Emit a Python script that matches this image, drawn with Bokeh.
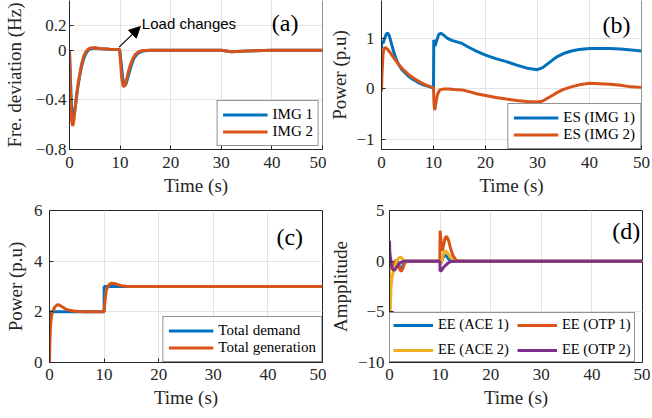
from bokeh.plotting import figure
from bokeh.models import FixedTicker, Range1d, Label, Arrow, NormalHead, Span
from bokeh.layouts import column, row
from bokeh.embed import file_html
from bokeh.resources import INLINE

# ---------------- data ----------------
x_ticks = [0, 10, 20, 30, 40, 50]

# (a) frequency deviation
t_img1 = [0, 0.2, 0.4, 0.6, 0.8, 1.0, 1.3, 1.6, 2.0, 2.4, 2.8, 3.2, 3.7, 4.2, 5.0, 6.0, 8.0, 9.9,
          10.2, 10.5, 10.8, 11.1, 11.4, 11.8, 12.3, 12.8, 13.5, 14.5, 16, 20, 25, 30, 32, 35, 40, 45, 50]
f_img1 = [0, -0.25, -0.45, -0.54, -0.55, -0.5, -0.41, -0.31, -0.21, -0.13, -0.07, -0.03, 0.0, 0.012, 0.018,
          0.012, 0.008, 0.006, -0.1, -0.22, -0.28, -0.28, -0.24, -0.18, -0.11, -0.06, -0.025, -0.006, 0.0,
          0.0, 0.0, 0.0, -0.012, -0.006, 0.0, 0.0, 0.0]
t_img2 = [0, 0.15, 0.3, 0.45, 0.65, 0.85, 1.1, 1.4, 1.7, 2.0, 2.4, 2.8, 3.2, 3.7, 4.2, 5.0, 6.0, 8.0, 9.9,
          10.1, 10.3, 10.6, 10.9, 11.2, 11.6, 12.0, 12.5, 13.0, 13.7, 14.5, 16, 20, 25, 30, 32, 35, 40, 45, 50]
f_img2 = [0, -0.28, -0.48, -0.58, -0.61, -0.57, -0.47, -0.36, -0.27, -0.2, -0.11, -0.05, -0.015, 0.008,
          0.018, 0.02, 0.013, 0.008, 0.006, -0.1, -0.22, -0.29, -0.29, -0.25, -0.18, -0.12, -0.07, -0.035,
          -0.012, -0.003, 0.0, 0.0, 0.0, 0.0, -0.012, -0.006, 0.0, 0.0, 0.0]

# (b) ES power
t_es1 = [0, 0.05, 0.3, 0.6, 0.9, 1.2, 1.5, 1.9, 2.3, 2.7, 3.2, 3.8, 4.5, 5.2, 6.0, 7.0, 8.0, 9.0, 9.95,
         10.0, 10.05, 10.3, 10.6, 11.0, 11.4, 12.0, 12.7, 13.5, 14.5, 15.5, 16.5, 18, 20, 22, 24, 26, 28,
         30, 31, 32, 33, 34, 35, 36.5, 38, 40, 42, 44, 46, 48, 50]
p_es1 = [0.8, 0.92, 0.9, 1.0, 1.08, 1.11, 1.05, 0.9, 0.75, 0.62, 0.5, 0.4, 0.32, 0.25, 0.19, 0.13, 0.08,
         0.05, 0.02, 0.0, 0.97, 0.85, 0.95, 1.08, 1.1, 1.06, 1.0, 0.96, 0.93, 0.9, 0.84, 0.76, 0.67, 0.6,
         0.54, 0.47, 0.41, 0.38, 0.42, 0.5, 0.58, 0.65, 0.7, 0.75, 0.78, 0.8, 0.8, 0.8, 0.79, 0.77, 0.75]
t_es2 = [0, 0.1, 0.3, 0.5, 0.8, 1.2, 1.8, 2.6, 3.5, 4.5, 5.5, 6.5, 7.5, 8.5, 9.5, 10.0, 10.1, 10.25, 10.5,
         10.8, 11.2, 12, 13, 14, 15.5, 17, 18.5, 20, 22, 24, 26, 28, 30, 31, 32, 33, 34, 35, 36.5, 38, 40,
         42, 44, 46, 48, 50]
p_es2 = [-0.05, 0.3, 0.7, 0.8, 0.82, 0.78, 0.7, 0.58, 0.46, 0.35, 0.26, 0.19, 0.13, 0.08, 0.04, 0.02, -0.3,
         -0.42, -0.25, -0.1, -0.02, 0.0, 0.0, -0.01, -0.02, -0.06, -0.1, -0.13, -0.17, -0.2, -0.23, -0.25,
         -0.26, -0.24, -0.18, -0.12, -0.06, -0.01, 0.04, 0.08, 0.11, 0.1, 0.09, 0.07, 0.04, 0.03]

# (c) total demand / generation
t_dem = [0, 0.01, 10, 10.01, 50]
p_dem = [0, 2, 2, 3, 3]
t_gen = [0, 0.1, 0.2, 0.35, 0.5, 0.7, 1.0, 1.4, 1.8, 2.3, 2.9, 3.6, 4.5, 5.5, 7, 9.9, 10.0, 10.2, 10.4,
         10.7, 11.0, 11.4, 11.9, 12.5, 13.2, 14, 15, 20, 30, 40, 50]
p_gen = [0, 1.0, 1.5, 1.8, 1.95, 2.07, 2.2, 2.28, 2.27, 2.2, 2.12, 2.06, 2.03, 2.01, 2.0, 2.0, 2.02, 2.5,
         2.85, 3.0, 3.09, 3.13, 3.12, 3.07, 3.03, 3.01, 3.0, 3.0, 3.0, 3.0, 3.0]

# (d) EE signals
t_ace1 = [0, 0.2, 0.5, 0.8, 1.2, 1.6, 2.0, 2.3, 2.6, 3.0, 3.5, 5, 10, 10.2, 10.5, 10.9, 11.3, 11.7, 12.2,
          13, 15, 50]
a_ace1 = [0, 0.3, -0.5, -0.7, -0.3, 0.0, -0.6, -0.85, -0.5, 0.0, 0.0, 0, 0, -0.2, 0.3, 0.6, 0.5, 0.2, 0.0,
          0, 0, 0]
t_otp1 = [0, 0.2, 0.5, 0.9, 1.3, 1.7, 2.1, 2.4, 2.7, 3.0, 3.4, 5, 9.95, 10.0, 10.2, 10.45, 10.7, 11.0,
          11.3, 11.7, 12.1, 12.5, 13.0, 13.4, 15, 50]
a_otp1 = [0, -0.3, -0.5, -0.2, 0.1, -0.3, -0.9, -1.0, -0.6, -0.2, 0.0, 0, 0, 3.0, 2.0, 1.0, 1.6, 2.3,
          2.45, 2.0, 1.2, 0.6, 0.2, 0.03, 0, 0]
t_ace2 = [0, 0.05, 0.15, 0.3, 0.5, 0.8, 1.1, 1.4, 1.8, 2.2, 2.6, 3.0, 3.5, 5, 10, 10.2, 10.5, 10.8, 11.1,
          11.5, 12, 12.5, 13, 15, 50]
a_ace2 = [0, -6.8, -5, -2.5, -1.6, -1.0, -0.5, 0.0, 0.3, 0.4, 0.2, 0.0, 0.0, 0, 0, -0.3, 0.4, 0.9, 1.0,
          0.8, 0.4, 0.1, 0, 0, 0]
t_otp2 = [0, 0.05, 0.3, 0.6, 1.0, 1.4, 1.8, 2.3, 3.0, 5, 9.95, 10.0, 10.3, 10.7, 11.2, 11.7, 12.2, 13, 50]
a_otp2 = [2.0, 1.0, -0.3, -0.8, -0.9, -0.6, -0.3, -0.1, 0, 0, 0, -1.0, -0.9, -0.6, -0.35, -0.15, -0.03,
          0, 0]

# ---------------- style ----------------
SERIF = "Liberation Serif"
AX = "#262626"
BLUE = "#0072BD"
ORANGE = "#D95319"
YELLOW = "#EDB120"
PURPLE = "#7E2F8E"
LW = 3


def make(width, height, ylim, yticks, ylabel, borders, ystd, yastd, xstd, xastd, top_open=False):
    p = figure(width=width, height=height, output_backend="svg", toolbar_location=None,
               x_range=Range1d(0, 50), y_range=Range1d(*ylim),
               min_border_left=borders[0], min_border_right=borders[1],
               min_border_top=borders[2], min_border_bottom=borders[3])
    p.xaxis.ticker = FixedTicker(ticks=x_ticks)
    p.yaxis.ticker = FixedTicker(ticks=yticks)
    p.xaxis.axis_label = "Time (s)"
    p.yaxis.axis_label = ylabel
    for ax in (p.xaxis[0], p.yaxis[0]):
        ax.axis_label_text_font = SERIF
        ax.axis_label_text_font_style = "normal"
        ax.axis_label_text_font_size = "19px"
        ax.axis_label_text_color = AX
        ax.major_label_text_font = SERIF
        ax.major_label_text_font_style = "normal"
        ax.major_label_text_font_size = "17px"
        ax.major_label_text_color = AX
        ax.axis_line_color = AX
        ax.major_tick_line_color = AX
        ax.major_tick_in = 4
        ax.major_tick_out = 0
        ax.minor_tick_line_color = None
    p.yaxis[0].major_label_standoff = ystd
    p.yaxis[0].axis_label_standoff = yastd
    p.xaxis[0].major_label_standoff = xstd
    p.xaxis[0].axis_label_standoff = xastd
    p.grid.grid_line_color = "#e3e3e3"
    if top_open:
        p.outline_line_color = None
        p.add_layout(Span(location=50, dimension="height", line_color=AX, line_width=1))
    else:
        p.outline_line_color = AX
        p.outline_line_alpha = 1
        p.outline_line_width = 1
    return p


def style_legend(p, loc, fs="15px", lh=17, gw=45, pad=5, margin=0, spacing=0):
    lg = p.legend[0]
    lg.location = loc
    lg.margin = margin
    lg.padding = pad
    lg.spacing = spacing
    lg.label_text_font = SERIF
    lg.label_text_font_size = fs
    lg.label_text_color = "black"
    lg.label_height = lh
    lg.glyph_height = lh
    lg.glyph_width = gw
    lg.label_standoff = 5
    lg.border_line_color = AX
    lg.border_line_width = 1
    lg.background_fill_alpha = 1


def panel_label(p, x, y, txt):
    p.add_layout(Label(x=x, y=y, text=txt, text_font=SERIF, text_font_size="24px",
                       text_align="center", text_baseline="middle", text_color="black"))


# (a)
pa = make(326, 200, (-0.8, 0.4), [-0.8, -0.4, 0, 0.2], "Fre. deviation (Hz)",
          (65, 4, 0, 51), 3, 8, 7, 4, top_open=True)
pa.line(t_img1, f_img1, color=BLUE, line_width=LW, legend_label="IMG 1")
pa.line(t_img2, f_img2, color=ORANGE, line_width=LW, legend_label="IMG 2")
style_legend(pa, "bottom_right", margin=3)
pa.add_layout(Arrow(end=NormalHead(size=11, fill_color="black", line_color="black", line_width=1),
                    x_start=9.8, y_start=0.025, x_end=14.0, y_end=0.19,
                    line_color="black", line_width=1.2))
pa.add_layout(Label(x=14.3, y=0.215, text="Load changes", text_font="Liberation Sans",
                    text_font_size="15px", text_baseline="middle", text_color="black"))
panel_label(pa, 42.6, 0.22, "(a)")

# (b)
pb = make(324, 200, (-1.2, 1.75), [-1, 0, 1], "Power (p.u)",
          (45, 9, 0, 51), 7, 3, 7, 4, top_open=True)
pb.line(t_es1, p_es1, color=BLUE, line_width=LW, legend_label="ES (IMG 1)")
pb.line(t_es2, p_es2, color=ORANGE, line_width=LW, legend_label="ES (IMG 2)")
style_legend(pb, "bottom_right")
panel_label(pb, 45.2, 1.27, "(b)")

# (c)
pc = make(326, 213, (0, 6), [0, 2, 4, 6], "Power (p.u)",
          (49, 4, 10, 51), 7, 5, 6, 4)
pc.line(t_dem, p_dem, color=BLUE, line_width=LW, legend_label="Total demand")
pc.line(t_gen, p_gen, color=ORANGE, line_width=LW, legend_label="Total generation")
style_legend(pc, "bottom_right")
panel_label(pc, 44, 4.94, "(c)")

# (d)
pd_ = make(324, 213, (-10, 5), [-10, -5, 0, 5], "Ampplitude",
           (52, 8, 10, 51), 5, 4, 6, 4)
pd_.line(t_ace1, a_ace1, color=BLUE, line_width=LW, legend_label="EE (ACE 1)")
pd_.line(t_otp1, a_otp1, color=ORANGE, line_width=LW, legend_label="EE (OTP 1)")
pd_.line(t_ace2, a_ace2, color=YELLOW, line_width=LW, legend_label="EE (ACE 2)")
pd_.line(t_otp2, a_otp2, color=PURPLE, line_width=LW, legend_label="EE (OTP 2)")
style_legend(pd_, "bottom_left", fs="14.5px", lh=16, gw=40, pad=3, spacing=8)
pd_.legend[0].orientation = "horizontal"
pd_.legend[0].ncols = 2
panel_label(pd_, 46.8, 3.0, "(d)")

layout = column(row(pa, pb), row(pc, pd_))
open("out.html", "w").write(file_html(layout, INLINE))
